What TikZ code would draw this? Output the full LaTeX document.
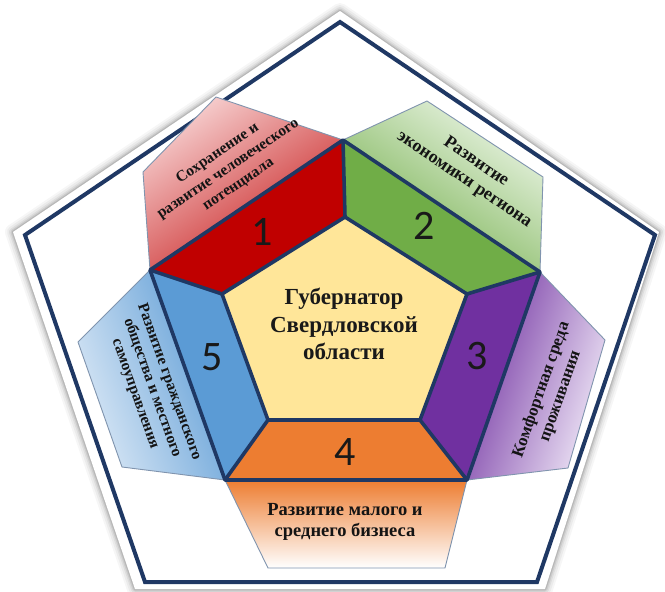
\documentclass[tikz,border=0pt]{standalone}
\usepackage{fontspec}
\setmainfont{Liberation Serif}
\newfontfamily\numfont{Carlito}
\definecolor{navy}{HTML}{1F3864}
\definecolor{redc}{HTML}{C00000}
\definecolor{greenc}{HTML}{70AD47}
\definecolor{purplec}{HTML}{7030A0}
\definecolor{orangec}{HTML}{ED7D31}
\definecolor{bluec}{HTML}{5B9BD5}
\definecolor{yellowc}{HTML}{FFE699}
\definecolor{redl}{HTML}{F6CFCF}
\definecolor{greenl}{HTML}{EAF4E4}
\definecolor{purplel}{HTML}{F1EAF8}
\definecolor{orangel}{HTML}{FFFFFF}
\definecolor{bluel}{HTML}{DCE9F6}
\definecolor{boxline}{HTML}{8094AE}
\begin{document}
\begin{tikzpicture}[x=1pt,y=-1pt,
  labelbox/.style={draw=boxline, line width=0.9pt, line join=round},
  ringline/.style={draw=navy, line width=3.6pt, line join=round},
  labeltext/.style={align=center, text=black!92, inner sep=1pt},
  numtext/.style={font=\numfont\fontsize{42}{42}\selectfont, text=black!90},
  centertext/.style={align=center, font=\fontsize{23}{27.5}\selectfont\bfseries, text=black!90}]
\useasboundingbox (0,0) rectangle (665,592);
% outer white pentagon with soft shadow
\coordinate (W1) at (340,11);
\coordinate (W2) at (659,232);
\coordinate (W3) at (545,589);
\coordinate (W4) at (135,589);
\coordinate (W5) at (13,232);
\foreach \w/\o in {16/0.035, 12/0.045, 8/0.06, 5/0.08, 2.5/0.1}{
  \draw[black, opacity=\o, line width=\w pt, line join=round, shift={(-3,-3)}]
    (W1) -- (W2) -- (W3) -- (W4) -- (W5) -- cycle;}
\fill[white] (W1) -- (W2) -- (W3) -- (W4) -- (W5) -- cycle;
% navy outline
\coordinate (N1) at (340,22);
\coordinate (N2) at (655,235);
\coordinate (N3) at (537,582);
\coordinate (N4) at (145,582);
\coordinate (N5) at (25,235);
\draw[navy, line width=4pt, line join=miter] (N1) -- (N2) -- (N3) -- (N4) -- (N5) -- cycle;
% middle and inner pentagons
\coordinate (M1) at (343,140);
\coordinate (M2) at (540,272);
\coordinate (M3) at (467,480);
\coordinate (M4) at (225,480);
\coordinate (M5) at (150,270);
\coordinate (I1) at (345,217);
\coordinate (I2) at (467,294);
\coordinate (I3) at (420,420);
\coordinate (I4) at (268,420);
\coordinate (I5) at (222,294);
% label boxes
\shade[labelbox, top color=redl, bottom color=redc!90, shading angle=34]
  (M5) -- (143,172) -- (216,97) -- (M1) -- cycle;
\shade[labelbox, top color=greenl, bottom color=greenc, shading angle=-34]
  (M1) -- (427,101) -- (543,177) -- (M2) -- cycle;
\shade[labelbox, top color=purplel, bottom color=purplec, shading angle=-109]
  (M2) -- (605,340) -- (568,468) -- (M3) -- cycle;
\shade[labelbox, top color=orangel, bottom color=orangec, shading angle=180]
  (M3) -- (445,568) -- (268,568) -- (M4) -- cycle;
\shade[labelbox, top color=bluel, bottom color=bluec, shading angle=110]
  (M4) -- (122,467) -- (78,342) -- (M5) -- cycle;
% ring segments
\fill[redc] (M5) -- (M1) -- (I1) -- (I5) -- cycle;
\fill[greenc] (M1) -- (M2) -- (I2) -- (I1) -- cycle;
\fill[purplec] (M2) -- (M3) -- (I3) -- (I2) -- cycle;
\fill[orangec] (M3) -- (M4) -- (I4) -- (I3) -- cycle;
\fill[bluec] (M4) -- (M5) -- (I5) -- (I4) -- cycle;
\fill[yellowc] (I1) -- (I2) -- (I3) -- (I4) -- (I5) -- cycle;
\draw[ringline] (M1) -- (M2) -- (M3) -- (M4) -- (M5) -- cycle;
\draw[ringline] (I1) -- (I2) -- (I3) -- (I4) -- (I5) -- cycle;
\draw[ringline] (M1) -- (I1);
\draw[ringline] (M2) -- (I2);
\draw[ringline] (M3) -- (I3);
\draw[ringline] (M4) -- (I4);
\draw[ringline] (M5) -- (I5);
% numbers
\node[numtext] (n1) at (262,232) {1};
\node[numtext] (n2) at (424,226) {2};
\node[numtext] (n3) at (477,356) {3};
\node[numtext] (n4) at (345,452) {4};
\node[numtext] (n5) at (212,357) {5};
% centre text
\node[centertext] (gov) at (344,324) {Губернатор\\Свердловской\\области};
% label texts
\node[labeltext, rotate=34, font=\fontsize{15.5}{18.5}\selectfont\bfseries] (t1) at (228,169) {Сохранение и\\развитие человеческого\\потенциала};
\node[labeltext, rotate=-34, font=\fontsize{18}{21}\selectfont\bfseries] (t2) at (470,171) {Развитие\\экономики региона};
\node[labeltext, rotate=70.7, font=\fontsize{17}{20}\selectfont\bfseries] (t3) at (551,393) {Комфортная среда\\проживания};
\node[labeltext, font=\fontsize{18.5}{20.5}\selectfont\bfseries] (t4) at (345,522) {Развитие малого и\\среднего бизнеса};
\node[labeltext, rotate=-70.3, font=\fontsize{15.5}{18}\selectfont\bfseries] (t5) at (152,388) {Развитие гражданского\\общества и местного\\самоуправления};
\end{tikzpicture}
\end{document}
